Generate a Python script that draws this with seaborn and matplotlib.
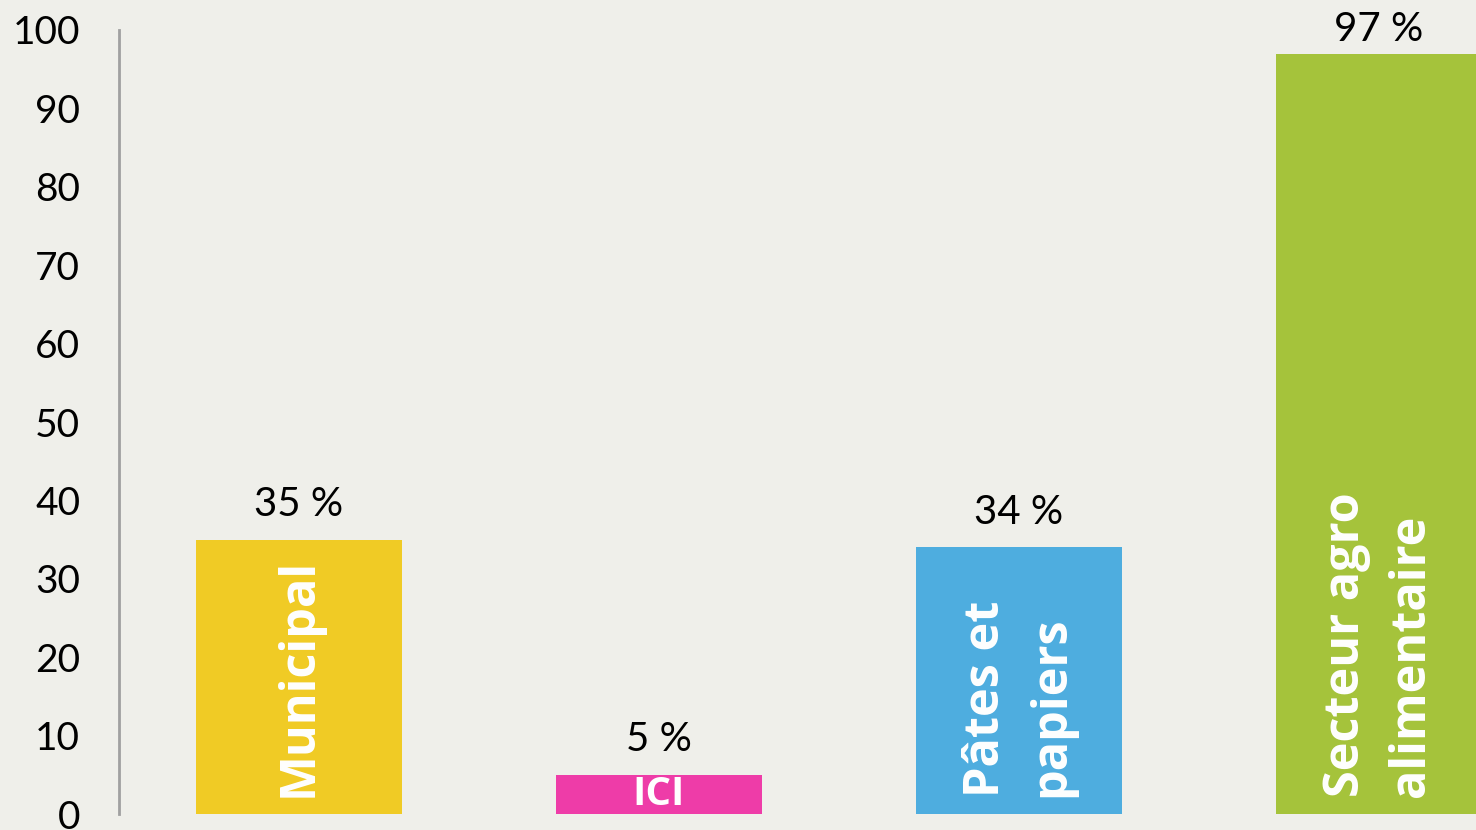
import numpy as np
import pandas as pd
import seaborn as sns
import matplotlib.pyplot as plt

# data
categories = ['Municipal', 'ICI', 'Pâtes et papiers', 'Secteur agro alimentaire']
bar_labels = ['Municipal', 'ICI', 'Pâtes et\npapiers', 'Secteur agro\nalimentaire']
values = [35, 5, 34, 97]
value_labels = ['35 %', '5 %', '34 %', '97 %']
colors = ['#F0CB25', '#EE3CA8', '#4EADDF', '#A5C33B']

bg = '#EFEFEA'
sns.set_theme(style='white')
plt.rcParams['font.family'] = ['Lato', 'DejaVu Sans']

df = pd.DataFrame({'cat': categories, 'val': values})

fig = plt.figure(figsize=(14.76, 8.30), dpi=100, facecolor=bg)
ax = fig.add_axes([119 / 1476, 16 / 830, 1440 / 1476, 784 / 830])
ax.set_facecolor(bg)

sns.barplot(data=df, x='cat', y='val', hue='cat', palette=colors,
            width=0.572, legend=False, ax=ax, saturation=1, linewidth=0)

ax.set_xlim(-0.5, 3.5)
ax.set_ylim(0, 100)
ax.set_yticks(np.arange(0, 101, 10))
ax.tick_params(axis='y', labelsize=28, pad=28, length=0, labelcolor='black')
ax.set_xticks([])
ax.set_xlabel('')
ax.set_ylabel('')

for s in ['top', 'right', 'bottom']:
    ax.spines[s].set_visible(False)
ax.spines['left'].set_color('#A0A0A0')
ax.spines['left'].set_linewidth(2)

# value labels on top
for i, (v, lab) in enumerate(zip(values, value_labels)):
    off = 3.0 if v < 90 else 1.6
    ax.text(i, v + off, lab, ha='center', va='baseline', fontsize=29, color='black')

# white labels inside the bars
lab_font = ['Open Sans', 'DejaVu Sans']
for i, lab in enumerate(bar_labels):
    if values[i] < 10:
        ax.text(i, 1.15, lab, ha='center', va='baseline', fontsize=29,
                fontweight='bold', color='white', family=lab_font)
    else:
        ax.text(i, 2.2, lab, ha='center', va='bottom', rotation=90,
                multialignment='left', fontsize=35, fontweight='bold',
                color='white', linespacing=1.45, family=lab_font)

fig.savefig('out.png', dpi=100, facecolor=bg)
